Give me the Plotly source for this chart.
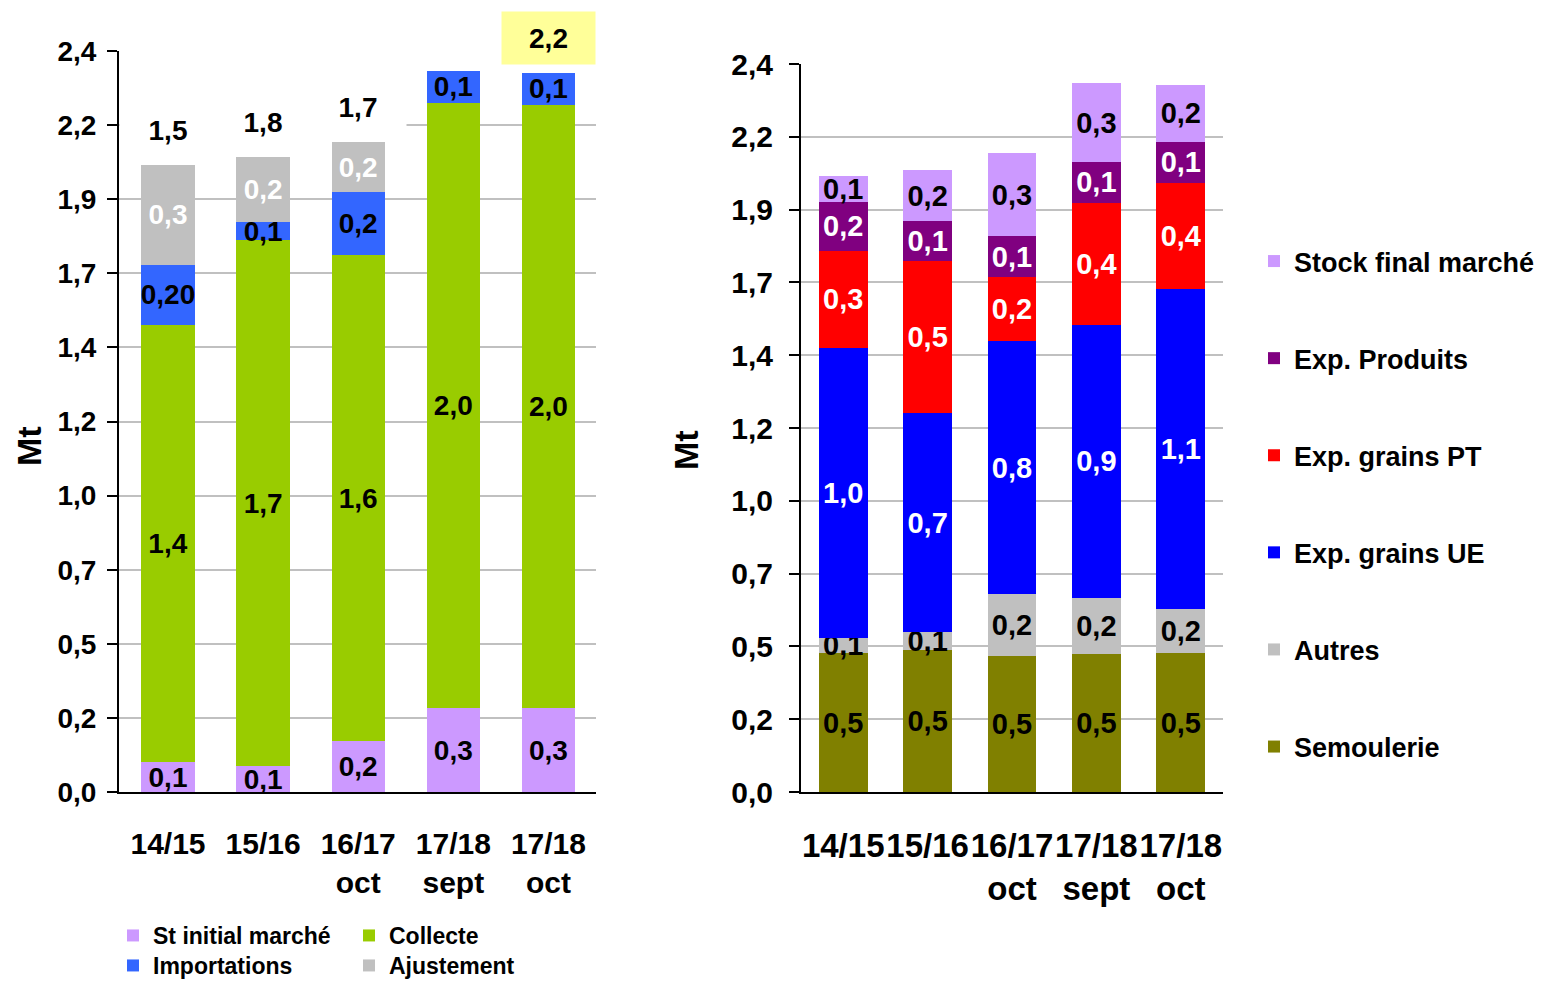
import plotly.graph_objects as go

# ---------------- data ----------------
categories = ["14/15", "15/16", "16/17<br>oct", "17/18<br>sept", "17/18<br>oct"]
tick_vals = [0, 0.24, 0.48, 0.72, 0.96, 1.2, 1.44, 1.68, 1.92, 2.16, 2.4]
tick_text = ["0,0", "0,2", "0,5", "0,7", "1,0", "1,2", "1,4", "1,7", "1,9", "2,2", "2,4"]

# left chart (ressources)
st_initial = [0.097, 0.084, 0.165, 0.272, 0.272]
collecte = [1.416, 1.704, 1.574, 1.960, 1.953]
importations = [0.194, 0.058, 0.204, 0.104, 0.104]
ajustement = [0.324, 0.211, 0.162, 0.0, 0.0]
st_initial_lbl = ["0,1", "0,1", "0,2", "0,3", "0,3"]
collecte_lbl = ["1,4", "1,7", "1,6", "2,0", "2,0"]
importations_lbl = ["0,20", "0,1", "0,2", "0,1", "0,1"]
ajustement_lbl = ["0,3", "0,2", "0,2", "", ""]
total_lbl = ["1,5", "1,8", "1,7", "", "2,2"]

# right chart (emplois)
semoulerie = [0.458, 0.468, 0.448, 0.455, 0.458]
autres = [0.050, 0.059, 0.204, 0.185, 0.145]
exp_ue = [0.956, 0.722, 0.834, 0.900, 1.055]
exp_pt = [0.320, 0.501, 0.211, 0.402, 0.350]
exp_produits = [0.161, 0.132, 0.135, 0.135, 0.135]
stock_final = [0.086, 0.168, 0.274, 0.260, 0.188]
semoulerie_lbl = ["0,5", "0,5", "0,5", "0,5", "0,5"]
autres_lbl = ["0,1", "0,1", "0,2", "0,2", "0,2"]
exp_ue_lbl = ["1,0", "0,7", "0,8", "0,9", "1,1"]
exp_pt_lbl = ["0,3", "0,5", "0,2", "0,4", "0,4"]
exp_produits_lbl = ["0,2", "0,1", "0,1", "0,1", "0,1"]
stock_final_lbl = ["0,1", "0,2", "0,3", "0,3", "0,2"]

# ---------------- style ----------------
LEFTF = "Liberation Sans, Arial, sans-serif"
ARIAL = "Liberation Sans, Arial, sans-serif"
FW, FH = 1533, 975          # figure size (page body has an 8px margin)
OFF = 8

def px(sx):
    return (sx - OFF) / FW

def py(sy):
    return 1 - (sy - OFF) / FH

fig = go.Figure()

def add_bar(name, y, txt, color, tcolor, xa, ya, width, family, size, legend, rank):
    fig.add_trace(go.Bar(
        name=name, x=categories, y=y, text=txt,
        marker=dict(color=color, line=dict(width=0)),
        textposition="inside", insidetextanchor="middle", constraintext="none",
        textangle=0, cliponaxis=False,
        textfont=dict(color=tcolor, size=size, family=family, weight="bold"),
        width=width, xaxis=xa, yaxis=ya, legend=legend, legendgroup=name,
        legendrank=rank, hoverinfo="skip",
    ))

add_bar("St initial marché", st_initial, st_initial_lbl, "#CC99FF", "black", "x", "y", 0.56, LEFTF, 28, "legend", 1)
add_bar("Collecte", collecte, collecte_lbl, "#99CC00", "black", "x", "y", 0.56, LEFTF, 28, "legend", 2)
add_bar("Importations", importations, importations_lbl, "#3366FF", "black", "x", "y", 0.56, LEFTF, 28, "legend3", 3)
add_bar("Ajustement", ajustement, ajustement_lbl, "#C0C0C0", "white", "x", "y", 0.56, LEFTF, 28, "legend3", 4)

add_bar("Semoulerie", semoulerie, semoulerie_lbl, "#808000", "black", "x2", "y2", 0.58, ARIAL, 29, "legend2", 6)
add_bar("Autres", autres, autres_lbl, "#C0C0C0", "black", "x2", "y2", 0.58, ARIAL, 29, "legend2", 5)
add_bar("Exp. grains UE", exp_ue, exp_ue_lbl, "#0000FF", "white", "x2", "y2", 0.58, ARIAL, 29, "legend2", 4)
add_bar("Exp. grains PT", exp_pt, exp_pt_lbl, "#FF0000", "white", "x2", "y2", 0.58, ARIAL, 29, "legend2", 3)
add_bar("Exp. Produits", exp_produits, exp_produits_lbl, "#800080", "white", "x2", "y2", 0.58, ARIAL, 29, "legend2", 2)
add_bar("Stock final marché", stock_final, stock_final_lbl, "#CC99FF", "black", "x2", "y2", 0.58, ARIAL, 29, "legend2", 1)

# totals above left bars
totals = [a + b + c + d for a, b, c, d in zip(st_initial, collecte, importations, ajustement)]
annotations = []
for cat, tot, lbl in zip(categories, totals, total_lbl):
    if not lbl:
        continue
    highlight = lbl == "2,2"
    annotations.append(dict(
        x=cat, y=tot, xref="x", yref="y", text=lbl, showarrow=False,
        yshift=35, font=dict(family=LEFTF, size=28, color="black", weight="bold"),
        bgcolor="#FFFF99" if highlight else "white",
        width=91 if highlight else 94, height=50 if highlight else 40,
        xanchor="center", yanchor="middle",
    ))

annotations.append(dict(x=px(29), y=py(446), xref="paper", yref="paper", text="Mt",
                        textangle=-90, showarrow=False, xanchor="center", yanchor="middle",
                        font=dict(family=LEFTF, size=34, color="black", weight="bold")))
annotations.append(dict(x=px(686), y=py(450), xref="paper", yref="paper", text="Mt",
                        textangle=-90, showarrow=False, xanchor="center", yanchor="middle",
                        font=dict(family=ARIAL, size=34, color="black", weight="bold")))

def yax(domain, family, size, anchor, standoff):
    return dict(domain=domain, range=[0, 2.4], tickmode="array", tickvals=tick_vals,
                ticktext=tick_text, showgrid=True, gridcolor="#C0C0C0", gridwidth=2,
                zeroline=False, showline=True, linecolor="black", linewidth=2,
                ticks="outside", ticklen=10, tickwidth=2, tickcolor="black",
                ticklabelstandoff=standoff, automargin=False, fixedrange=True, anchor=anchor,
                tickfont=dict(family=family, size=size, color="black", weight="bold"))

def xax(domain, family, size, anchor, standoff):
    return dict(domain=domain, type="category", showline=True, linecolor="black", linewidth=2,
                ticks="", tickangle=0, showgrid=False, anchor=anchor, automargin=False,
                ticklabelstandoff=standoff, fixedrange=True,
                tickfont=dict(family=family, size=size, color="black", weight="bold"))

fig.update_layout(
    width=FW, height=FH, margin=dict(l=0, r=0, t=0, b=0, autoexpand=False),
    paper_bgcolor="white", plot_bgcolor="white",
    barmode="stack",
    xaxis=xax([px(119), px(596)], LEFTF, 30, "y", 24),
    yaxis=yax([py(792), py(51)], LEFTF, 28, "x", 5),
    xaxis2=xax([px(801), px(1223)], ARIAL, 33, "y2", 23),
    yaxis2=yax([py(792), py(64)], ARIAL, 30, "x2", 10),
    annotations=annotations,
    legend=dict(orientation="h", x=px(113), y=py(914), xanchor="left", yanchor="top",
                entrywidth=191, traceorder="normal", bgcolor="rgba(0,0,0,0)",
                font=dict(family=LEFTF, size=23, color="black", weight="bold")),
    legend3=dict(orientation="h", x=px(113), y=py(944), xanchor="left", yanchor="top",
                 entrywidth=191, traceorder="normal", bgcolor="rgba(0,0,0,0)",
                 font=dict(family=LEFTF, size=23, color="black", weight="bold")),
    legend2=dict(orientation="v", x=px(1254), y=py(237), xanchor="left", yanchor="top",
                 traceorder="grouped", tracegroupgap=59, bgcolor="rgba(0,0,0,0)",
                 font=dict(family=ARIAL, size=27, color="black", weight="bold")),
    showlegend=True,
)

fig.write_html("out.html")
